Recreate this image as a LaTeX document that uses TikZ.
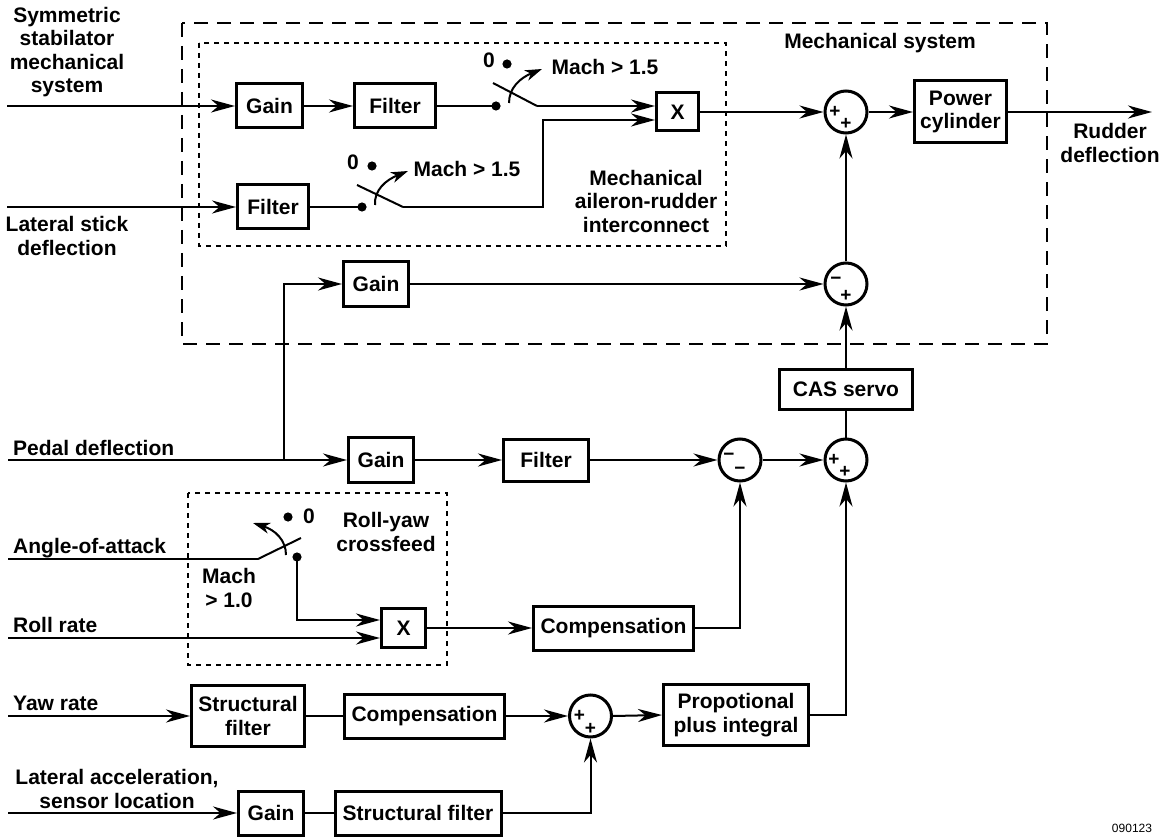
\documentclass[tikz,border=0pt]{standalone}
\usepackage{fontspec}
\setmainfont{Liberation Sans}
\usetikzlibrary{arrows.meta}
\begin{document}
\begin{tikzpicture}[x=1pt,y=-1pt,
  txt/.style={font=\fontsize{21}{23.5}\selectfont\bfseries},
  blk/.style={txt, draw, line width=3pt, align=center, inner sep=0pt},
  sumj/.style={circle, draw, line width=3pt, minimum size=42pt, inner sep=0pt},
  sgn/.style={font=\fontsize{19}{19}\selectfont\bfseries, inner sep=0pt},
  conn/.style={line width=2pt},
  arr/.style={conn, -{Stealth[length=24pt,width=13pt,inset=7.5pt]}},
  swarr/.style={conn, -{Stealth[length=17pt,width=11pt,inset=5pt]}},
  lbl/.style={txt, inner sep=0pt, align=center},
  llbl/.style={txt, inner sep=0pt, anchor=west},
  dashbox/.style={line width=2.7pt, dash pattern=on 14pt off 9pt},
  dotbox/.style={line width=2.3pt, dash pattern=on 5pt off 5pt}
]
\useasboundingbox (0,0) rectangle (1165,837);

% enclosures
\draw[dashbox] (182,23) rectangle (1047,344);
\draw[dotbox] (199,43) rectangle (726,246);
\draw[dotbox] (188,493) rectangle (447,665);

% blocks
\node[blk, minimum width=66pt, minimum height=44pt] (gain1) at (269.5,106) {Gain};
\node[blk, minimum width=81pt, minimum height=44pt] (filt1) at (395,106) {Filter};
\node[blk, minimum width=42pt, minimum height=38pt] (x1) at (677.5,112) {X};
\node[blk, minimum width=71pt, minimum height=44pt] (filt2) at (273,207) {Filter};
\node[blk, minimum width=92pt, minimum height=62pt] (pcyl) at (960.5,112) {Power\\cylinder};
\node[blk, minimum width=65pt, minimum height=44pt] (gmid) at (376,284) {Gain};
\node[blk, minimum width=133pt, minimum height=40pt] (cas) at (846,389.5) {CAS servo};
\node[blk, minimum width=65pt, minimum height=45pt] (gped) at (381,460) {Gain};
\node[blk, minimum width=85pt, minimum height=42pt] (filt3) at (546,460) {Filter};
\node[blk, minimum width=44pt, minimum height=39pt] (x2) at (403.5,628) {X};
\node[blk, minimum width=160pt, minimum height=44pt] (comp1) at (613.5,628) {Compensation};
\node[blk, minimum width=113pt, minimum height=61pt] (sf1) at (248,716) {Structural\\filter};
\node[blk, minimum width=160pt, minimum height=44pt] (comp2) at (424.5,716) {Compensation};
\node[blk, minimum width=145pt, minimum height=61pt] (prop) at (736,715) {Propotional\\plus integral};
\node[blk, minimum width=65pt, minimum height=44pt] (gain4) at (271,813) {Gain};
\node[blk, minimum width=166pt, minimum height=44pt] (sf2) at (418,813) {Structural filter};

% summing junctions
\node[sumj] (s1) at (846,112) {};
\node[sumj] (s2) at (846,284) {};
\node[sumj] (s3) at (846,460) {};
\node[sumj] (smm) at (740,460) {};
\node[sumj] (s4) at (590.5,716) {};
\node[sgn] at ([shift={(-11,0)}]s1.center) {+};
\node[sgn] at ([shift={(0,12)}]s1.center) {+};
\node[sgn] at ([shift={(-10,-3)}]s2.center) {\char"2212};
\node[sgn] at ([shift={(0,12)}]s2.center) {+};
\node[sgn] at ([shift={(-12,0)}]s3.center) {+};
\node[sgn] at ([shift={(-1,12)}]s3.center) {+};
\node[sgn] at ([shift={(-11,-3)}]smm.center) {\char"2212};
\node[sgn] at ([shift={(0,11)}]smm.center) {\char"2212};
\node[sgn] at ([shift={(-11,0)}]s4.center) {+};
\node[sgn] at ([shift={(0,13)}]s4.center) {+};

% text labels
\node[lbl] (tsym) at (67,52) {Symmetric\\stabilator\\mechanical\\system};
\node[lbl] (tlat) at (67,236) {Lateral stick\\deflection};
\node[lbl] (tmech) at (880,43) {Mechanical system};
\node[lbl] (tmari) at (646,201) {Mechanical\\aileron-rudder\\interconnect};
\node[lbl] (trud) at (1110,143) {Rudder\\deflection};
\node[llbl] (tped) at (13,448) {Pedal deflection};
\node[llbl] (taoa) at (13,548) {Angle-of-attack};
\node[llbl] (troll) at (13,625) {Roll rate};
\node[llbl] (tyaw) at (13,703) {Yaw rate};
\node[lbl] (tlacc) at (117,789) {Lateral acceleration,\\sensor location};
\node[lbl] (tryc) at (386,532) {Roll-yaw\\crossfeed};
\node[lbl] (tmach3) at (229,588) {Mach\\{> 1.0}};
\node[lbl] (tm1) at (605,67) {Mach > 1.5};
\node[lbl] (tm2) at (467,169) {Mach > 1.5};
\node[lbl] (tz1) at (489,60) {0};
\node[lbl] (tz2) at (353,162) {0};
\node[lbl] (tz3) at (309,516) {0};
\node[font=\fontsize{12}{14}\selectfont, inner sep=0pt] (tnum) at (1132,828) {090123};

% coordinates
\coordinate (insym) at (7,106);
\coordinate (inlat) at (7,207);
\coordinate (inped) at (8,460);
\coordinate (inaoa) at (8,559);
\coordinate (inroll) at (8,638);
\coordinate (inyaw) at (8,716);
\coordinate (inlacc) at (8,813);
\coordinate (out) at (1152,112);
\coordinate (pb) at (284,460);
\coordinate (d1) at (496,106);
\coordinate (d1u) at (507,64);
\coordinate (b1s) at (493,83);
\coordinate (b1e) at (537,106);
\coordinate (d2) at (362,207);
\coordinate (d2u) at (372,166);
\coordinate (b2s) at (357,185);
\coordinate (b2e) at (403,207);
\coordinate (j2) at (543,120);
\coordinate (b3s) at (258,559);
\coordinate (b3e) at (301,538);
\coordinate (d3) at (297,557);
\coordinate (d3u) at (288,517);
\coordinate (j3) at (297,620);

% switch contacts and blades
\fill (d1) circle[radius=4.6pt];
\fill (d1u) circle[radius=4.6pt];
\fill (d2) circle[radius=4.6pt];
\fill (d2u) circle[radius=4.6pt];
\fill (d3) circle[radius=4.6pt];
\fill (d3u) circle[radius=4.6pt];
\draw[conn] (b1s) -- (b1e);
\draw[conn] (b2s) -- (b2e);
\draw[conn] (b3s) -- (b3e);
\draw[swarr] (509,103) .. controls (509,88) and (520,78) .. (542,69);
\draw[swarr] (375,205) .. controls (374,190) and (386,180) .. (408,171);
\draw[swarr] (286,555) .. controls (286,540) and (275,530) .. (253,523);

% connectors: mechanical system
\draw[arr] (insym) -- (gain1.west);
\draw[arr] (gain1) -- (filt1);
\draw[conn] (filt1.east) -- (d1);
\draw[arr] (b1e) -- (b1e -| x1.west);
\draw[arr] (inlat) -- (filt2.west);
\draw[conn] (filt2.east) -- (d2);
\draw[arr] (b2e) -| (j2) -- (j2 -| x1.west);
\draw[arr] (x1.east) -- (s1.west);
\draw[arr] (s1.east) -- (pcyl.west);
\draw[arr] (pcyl.east) -- (out);
\draw[arr] (s2.north) -- (s1.south);
\draw[arr] (gmid.east) -- (s2.west);
\draw[arr] (cas.north) -- (s2.south);
\draw[conn] (s3.north) -- (cas.south);

% pedal path
\draw[arr] (inped) -- (gped.west);
\draw[arr] (pb) |- (gmid.west);
\draw[arr] (gped) -- (filt3);
\draw[arr] (filt3.east) -- (smm.west);
\draw[arr] (smm.east) -- (s3.west);

% roll-yaw crossfeed
\draw[conn] (inaoa) -- (b3s);
\draw[arr] (d3) -- (j3) -- (j3 -| x2.west);
\draw[arr] (inroll) -- (inroll -| x2.west);
\draw[arr] (x2.east) -- (comp1.west);
\draw[arr] (comp1.east) -| (smm.south);

% yaw rate and lateral acceleration
\draw[arr] (inyaw) -- (sf1.west);
\draw[conn] (sf1.east) -- (comp2.west);
\draw[arr] (comp2.east) -- (s4.west);
\draw[arr] (s4.east) -- (prop.west);
\draw[arr] (prop.east) -| (s3.south);
\draw[arr] (inlacc) -- (gain4.west);
\draw[conn] (gain4.east) -- (sf2.west);
\draw[arr] (sf2.east) -| (s4.south);
\end{tikzpicture}
\end{document}
